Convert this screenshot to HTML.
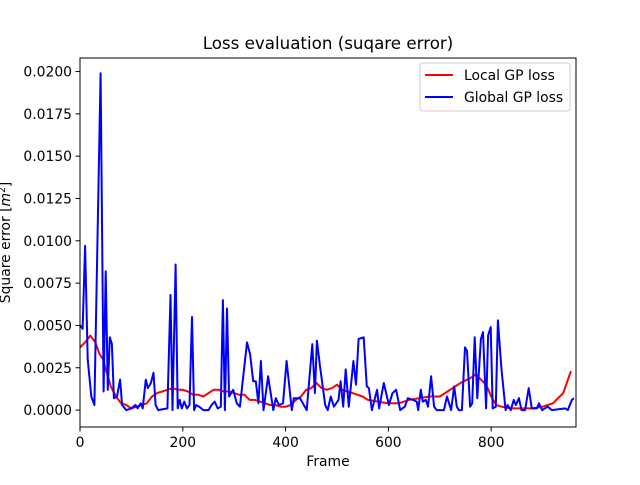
<!DOCTYPE html>
<html><head><meta charset="utf-8"><style>
body{margin:0;background:#fff;font-family:"Liberation Sans","DejaVu Sans",sans-serif}
svg text{font-family:"DejaVu Sans","Liberation Sans",sans-serif}
</style></head><body>
<svg id="chart" width="640" height="480" xmlns="http://www.w3.org/2000/svg"></svg>
<script>
const xTicks=[0,200,400,600,800];
const yTicks=[0,0.0025,0.005,0.0075,0.01,0.0125,0.015,0.0175,0.02];
const yTickLabels=["0.0000","0.0025","0.0050","0.0075","0.0100","0.0125","0.0150","0.0175","0.0200"];
const blueFrames=[0,5,10,15,22,28,40,46,50,54,58,62,66,72,78,82,90,100,108,112,118,122,128,132,138,143,147,152,170,176,180,186,190,194,198,203,208,213,218,222,226,232,240,250,256,262,268,274,278,282,286,290,298,305,311,325,331,337,342,347,352,357,366,376,381,387,395,402,412,416,428,441,452,457,461,467,477,482,488,494,503,507,512,517,523,532,537,542,552,558,562,568,578,582,591,601,608,615,623,632,638,648,655,658,663,667,673,677,683,689,694,708,714,722,728,733,737,743,749,753,759,763,768,773,780,784,790,794,799,803,809,813,820,828,832,838,844,848,854,859,866,873,879,889,893,899,910,918,944,949,957,961];
const blueValues=[0.0050,0.0048,0.0097,0.0030,0.0008,0.0003,0.0199,0.0011,0.0082,0.0012,0.0043,0.0039,0.0007,0.0008,0.0018,0.0003,0.0000,0.0001,0.0003,0.0001,0.0004,0.0001,0.0018,0.0013,0.0016,0.0022,0.0003,0.0000,0.0001,0.0068,0.0000,0.0086,0.0001,0.0006,0.0001,0.0005,0.0001,0.0003,0.0055,0.0000,0.0003,0.0002,0.0000,0.0000,0.0003,0.0005,0.0001,0.0002,0.0065,0.0000,0.0060,0.0008,0.0012,0.0004,0.0002,0.0040,0.0033,0.0017,0.0017,0.0004,0.0029,0.0000,0.0020,0.0000,0.0007,0.0003,0.0004,0.0029,0.0000,0.0007,0.0007,0.0000,0.0039,0.0010,0.0041,0.0026,0.0003,0.0000,0.0008,0.0002,0.0006,0.0017,0.0002,0.0024,0.0002,0.0029,0.0015,0.0042,0.0043,0.0014,0.0013,0.0000,0.0012,0.0001,0.0016,0.0003,0.0010,0.0012,0.0000,0.0002,0.0007,0.0006,0.0005,0.0000,0.0012,0.0005,0.0006,0.0002,0.0020,0.0002,0.0000,0.0000,0.0008,0.0000,0.0014,0.0002,0.0000,0.0000,0.0037,0.0035,0.0002,0.0004,0.0043,0.0007,0.0042,0.0046,0.0001,0.0044,0.0049,0.0001,0.0002,0.0053,0.0024,0.0000,0.0003,0.0000,0.0006,0.0003,0.0007,0.0000,0.0000,0.0013,0.0001,0.0001,0.0004,0.0000,0.0002,0.0000,0.0001,0.0000,0.0006,0.0007];
const redFrames=[0,10,20,30,38,45,50,60,70,80,90,100,110,120,130,140,150,160,170,180,190,200,210,220,230,240,250,260,270,280,290,300,310,320,330,340,350,360,370,380,390,400,410,420,430,440,450,460,470,480,490,500,510,520,530,540,550,560,580,600,620,640,660,680,700,720,740,760,770,780,790,800,810,820,840,860,880,900,920,940,955];
const redValues=[0.0037,0.0040,0.0044,0.0040,0.0033,0.0030,0.0024,0.0014,0.0008,0.0004,0.0003,0.0001,0.0002,0.0003,0.0004,0.0008,0.0010,0.0011,0.0012,0.0013,0.0012,0.0012,0.0011,0.0009,0.0009,0.0008,0.0010,0.0012,0.0012,0.0011,0.0011,0.0010,0.0009,0.0009,0.0006,0.0006,0.0005,0.0004,0.0003,0.0003,0.0002,0.0002,0.0003,0.0006,0.0008,0.0012,0.0013,0.0016,0.0013,0.0012,0.0013,0.0015,0.0012,0.0011,0.0010,0.0009,0.0008,0.0006,0.0005,0.0004,0.0004,0.0006,0.0007,0.0008,0.0008,0.0012,0.0016,0.0019,0.0021,0.0018,0.0015,0.0008,0.0003,0.0002,0.0001,0.0001,0.0001,0.0002,0.0004,0.0010,0.0023];

const L=80,R=576,T=58,B=427,xmin=0,xmax=965,ymin=-0.001,ymax=0.0208;
const X=v=>L+(v-xmin)/(xmax-xmin)*(R-L);
const Y=v=>B-(v-ymin)/(ymax-ymin)*(B-T);
const svg=document.getElementById('chart');
const NS='http://www.w3.org/2000/svg';
function mk(tag,attrs,txt){const e=document.createElementNS(NS,tag);for(const k in attrs)e.setAttribute(k,attrs[k]);if(txt!==undefined)e.textContent=txt;svg.appendChild(e);return e;}

let e=mk('rect',{x:L,y:T,width:R-L,height:B-T,fill:'#fff',stroke:'none'});



function line(fr,vals,color,name){
  const p=fr.map((f,i)=>X(f).toFixed(1)+','+Y(vals[i]).toFixed(1)).join(' ');
  const el=mk('polyline',{points:p,fill:'none',stroke:color,'stroke-width':2,'stroke-linejoin':'round'});
  
  
}
line(redFrames,redValues,'#ff0000','local-gp-loss-line');
line(blueFrames,blueValues,'#0000ff','global-gp-loss-line');

e=mk('rect',{x:L,y:T,width:R-L,height:B-T,fill:'none',stroke:'#000','stroke-width':1});



xTicks.forEach(t=>{
  const x=X(t);
  const tk=mk('line',{x1:x,x2:x,y1:B,y2:B+4.5,stroke:'#000','stroke-width':1});
  
  
  const lb=mk('text',{x:x,y:B+20,'font-size':13.9,'text-anchor':'middle'},String(t));
  
  
});
yTicks.forEach((t,i)=>{
  const y=Y(t);
  const tk=mk('line',{x1:L-4.5,x2:L,y1:y,y2:y,stroke:'#000','stroke-width':1});
  
  
  const lb=mk('text',{x:L-8,y:y+5,'font-size':13.9,'text-anchor':'end'},yTickLabels[i]);
  
  
});
e=mk('text',{x:(L+R)/2,y:466,'font-size':13.9,'text-anchor':'middle'},'Frame');


e=mk('text',{x:0,y:0,'font-size':13.9,'text-anchor':'middle',transform:'translate(10,'+((T+B)/2)+') rotate(-90)'});
e.innerHTML='Square error [<tspan font-style="italic">m</tspan><tspan font-size="9" dy="-5">2</tspan><tspan dy="5">]</tspan>';


e=mk('text',{x:(L+R)/2,y:49,'font-size':16.7,'text-anchor':'middle'},'Loss evaluation (suqare error)');



e=mk('rect',{x:420,y:63,width:150,height:48,rx:3,fill:'#fff','fill-opacity':0.8,stroke:'#ccc','stroke-width':1});


[['Local GP loss','#ff0000',80],['Global GP loss','#0000ff',102]].forEach(([t,c,y])=>{
  const ln=mk('line',{x1:425,x2:453,y1:y-5,y2:y-5,stroke:c,'stroke-width':2});
  
  
  const tx=mk('text',{x:464,y:y,'font-size':13.9},t);
  
  
});
</script>
</body></html>
